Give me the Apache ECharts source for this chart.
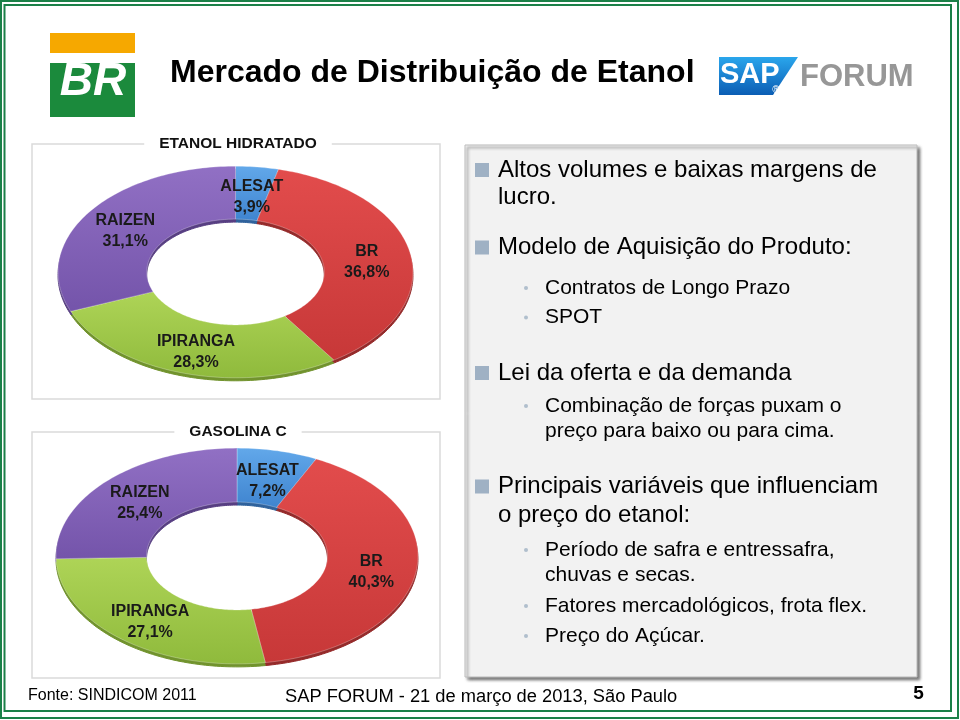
<!DOCTYPE html>
<html>
<head>
<meta charset="utf-8">
<script src="https://cdn.jsdelivr.net/npm/echarts@6/dist/echarts.min.js"></script>
<style>
html,body{margin:0;padding:0;background:#fff;}
#chart{width:960px;height:720px;}
</style>
</head>
<body>
<div id="chart"></div>
<script>
// ---- data ----
const companies = ['ALESAT', 'BR', 'IPIRANGA', 'RAIZEN'];
const etanolValues = [3.9, 36.8, 28.3, 31.1];
const gasolinaValues = [7.2, 40.3, 27.1, 25.4];
const chartTitles = ['ETANOL HIDRATADO', 'GASOLINA C'];
const slideTitle = 'Mercado de Distribuição de Etanol';
const bulletLines = [
  ['main', 'Altos volumes e baixas margens de'],
  ['cont', 'lucro.'],
  ['main', 'Modelo de Aquisição do Produto:'],
  ['sub', 'Contratos de Longo Prazo'],
  ['sub', 'SPOT'],
  ['main', 'Lei da oferta e da demanda'],
  ['sub', 'Combinação de forças puxam o'],
  ['subcont', 'preço para baixo ou para cima.'],
  ['main', 'Principais variáveis que influenciam'],
  ['cont', 'o preço do etanol:'],
  ['sub', 'Período de safra e entressafra,'],
  ['subcont', 'chuvas e secas.'],
  ['sub', 'Fatores mercadológicos, frota flex.'],
  ['sub', 'Preço do Açúcar.']
];
const footerSource = 'Fonte: SINDICOM 2011';
const footerEvent = 'SAP FORUM - 21 de março de 2013, São Paulo';
const pageNumber = '5';

// ---- styles ----
const FONT = '"Liberation Sans", Arial, sans-serif';
const GREEN = '#1b8048';
const sliceColors = [
  ['#62a8ea', '#3f84cf', '#2f629c'],
  ['#e24c4c', '#c73838', '#952a2a'],
  ['#aed457', '#8fba3c', '#71932d'],
  ['#9170c4', '#7454aa', '#573e82']
];
const lineY = [170, 197.5, 247.5, 288, 317.5, 373, 406, 431, 486.5, 515.5, 550, 575, 606, 636];

function fmt(v) { return v.toFixed(1).replace('.', ','); }

function buildData(values) {
  let acc = 0;
  return values.map((v, i) => { const d = [acc, acc + v, v, i]; acc += v; return d; });
}

const SQUASH = 0.596;
const INNER = 0.5;
const SIDE = 3;

function ringSeries(polarIndex, values, layer) {
  return {
    type: 'custom',
    coordinateSystem: 'polar',
    polarIndex: polarIndex,
    silent: true,
    animation: false,
    z: layer === 'side' ? 1 : (layer === 'top' ? 2 : 3),
    data: buildData(values),
    renderItem: function (params, api) {
      const cs = params.coordSys;
      const s = api.value(0), e = api.value(1), v = api.value(2), idx = api.value(3);
      const sq = p => [p[0], cs.cy + (p[1] - cs.cy) * SQUASH];
      if (layer === 'label') {
        const m = (s + e) / 2;
        const p = sq(api.coord([0.75, m]));
        return {
          type: 'text',
          x: p[0], y: p[1] + 4,
          style: {
            text: companies[idx] + '\n' + fmt(v) + '%',
            fontFamily: FONT, fontSize: 16, fontWeight: 'bold',
            fill: '#1a1a1a', align: 'center', verticalAlign: 'middle', lineHeight: 21
          }
        };
      }
      const n = Math.max(4, Math.ceil((e - s) * 3));
      const pts = [];
      for (let j = 0; j <= n; j++) pts.push(sq(api.coord([1, s + (e - s) * j / n])));
      for (let j = n; j >= 0; j--) pts.push(sq(api.coord([INNER, s + (e - s) * j / n])));
      const c = sliceColors[idx];
      if (layer === 'side') {
        return {
          type: 'polygon', y: SIDE,
          shape: { points: pts },
          style: { fill: c[2], stroke: c[2], lineWidth: 1 }
        };
      }
      return {
        type: 'polygon',
        shape: { points: pts },
        style: {
          fill: { type: 'linear', x: 0, y: 0, x2: 0, y2: 1, colorStops: [
            { offset: 0, color: c[0] }, { offset: 1, color: c[1] }] },
          stroke: 'rgba(255,255,255,0.35)', lineWidth: 0.8
        }
      };
    }
  };
}

// ---- static slide elements ----
const elements = [];
// frame
elements.push({ type: 'rect', shape: { x: 1, y: 1, width: 957, height: 717 }, style: { fill: 'none', stroke: GREEN, lineWidth: 2 } });
elements.push({ type: 'rect', shape: { x: 4.5, y: 5, width: 946.5, height: 706 }, style: { fill: 'none', stroke: GREEN, lineWidth: 2 } });
// BR logo
elements.push({ type: 'rect', shape: { x: 50, y: 33, width: 85, height: 20 }, style: { fill: '#f6a800' } });
elements.push({ type: 'rect', shape: { x: 50, y: 63, width: 85, height: 54 }, style: { fill: '#1b8a3c' } });
elements.push({ type: 'text', x: 93, y: 82, style: { text: 'BR', fontFamily: FONT, fontSize: 46, fontWeight: 'bold', fontStyle: 'italic', fill: '#fff', align: 'center', verticalAlign: 'middle' } });
// title
elements.push({ type: 'text', x: 170, y: 73, style: { text: slideTitle, fontFamily: FONT, fontSize: 32, fontWeight: 'bold', fill: '#000', align: 'left', verticalAlign: 'middle' } });
// SAP logo
elements.push({ type: 'polygon', shape: { points: [[719, 57], [798, 57], [773, 95], [719, 95]] },
  style: { fill: { type: 'linear', x: 0, y: 0, x2: 0, y2: 1, colorStops: [{ offset: 0, color: '#2aa6ec' }, { offset: 1, color: '#0b5db4' }] } } });
elements.push({ type: 'text', x: 720, y: 75, style: { text: 'SAP', fontFamily: FONT, fontSize: 29, fontWeight: 'bold', fill: '#fff', align: 'left', verticalAlign: 'middle' } });
elements.push({ type: 'text', x: 776, y: 90, style: { text: '®', fontFamily: FONT, fontSize: 10, fill: '#fff', align: 'center', verticalAlign: 'middle' } });
elements.push({ type: 'text', x: 800, y: 77, style: { text: 'FORUM', fontFamily: FONT, fontSize: 31, fontWeight: 'bold', fill: '#979797', align: 'left', verticalAlign: 'middle' } });
// chart boxes
const boxes = [[32, 144, 408, 255], [32, 432, 408, 246]];
boxes.forEach((b, i) => {
  elements.push({ type: 'rect', shape: { x: b[0], y: b[1], width: b[2], height: b[3] }, style: { fill: '#fff', stroke: '#dadada', lineWidth: 1.5 } });
  elements.push({ type: 'text', x: b[0] + b[2] / 2 + 2, y: b[1], style: { text: chartTitles[i], fontFamily: FONT, fontSize: 15.5, fontWeight: 'bold', fill: '#111', align: 'center', verticalAlign: 'middle', backgroundColor: '#fff', padding: [3, 15] } });
});
// text box
elements.push({ type: 'rect', shape: { x: 465, y: 145, width: 452, height: 532 },
  style: { fill: '#f2f2f2', stroke: '#bdbdbd', lineWidth: 1, shadowBlur: 3, shadowOffsetX: 2.5, shadowOffsetY: 2.5, shadowColor: 'rgba(0,0,0,0.55)' } });
bulletLines.forEach((ln, i) => {
  const kind = ln[0], y = lineY[i];
  const isMain = kind === 'main' || kind === 'cont';
  if (kind === 'main') {
    elements.push({ type: 'rect', shape: { x: 475, y: y - 7, width: 14, height: 14 }, style: { fill: '#9fb1c4' } });
  }
  if (kind === 'sub') {
    elements.push({ type: 'circle', shape: { cx: 526, cy: y, r: 2 }, style: { fill: '#b0bfcd' } });
  }
  elements.push({ type: 'text', x: isMain ? 498 : 545, y: y, style: { text: ln[1], fontFamily: FONT, fontSize: isMain ? 24 : 21, fill: '#000', align: 'left', verticalAlign: 'middle' } });
});
// footer
elements.push({ type: 'text', x: 28, y: 696, style: { text: footerSource, fontFamily: FONT, fontSize: 16, fill: '#000', align: 'left', verticalAlign: 'middle' } });
elements.push({ type: 'text', x: 285, y: 696.5, style: { text: footerEvent, fontFamily: FONT, fontSize: 18.3, fill: '#000', align: 'left', verticalAlign: 'middle' } });
elements.push({ type: 'text', x: 918.5, y: 694, style: { text: pageNumber, fontFamily: FONT, fontSize: 19, fontWeight: 'bold', fill: '#000', align: 'center', verticalAlign: 'middle' } });

const sumE = etanolValues.reduce((a, b) => a + b, 0);
const sumG = gasolinaValues.reduce((a, b) => a + b, 0);

const option = {
  backgroundColor: '#fff',
  animation: false,
  polar: [
    { center: [235.5, 272], radius: [0, 177.5] },
    { center: [237, 556], radius: [0, 181] }
  ],
  angleAxis: [
    { polarIndex: 0, type: 'value', min: 0, max: sumE, startAngle: 90, clockwise: true, show: false },
    { polarIndex: 1, type: 'value', min: 0, max: sumG, startAngle: 90, clockwise: true, show: false }
  ],
  radiusAxis: [
    { polarIndex: 0, type: 'value', min: 0, max: 1, show: false },
    { polarIndex: 1, type: 'value', min: 0, max: 1, show: false }
  ],
  graphic: { elements: elements },
  series: [
    ringSeries(0, etanolValues, 'side'),
    ringSeries(0, etanolValues, 'top'),
    ringSeries(0, etanolValues, 'label'),
    ringSeries(1, gasolinaValues, 'side'),
    ringSeries(1, gasolinaValues, 'top'),
    ringSeries(1, gasolinaValues, 'label')
  ]
};

const chart = echarts.init(document.getElementById('chart'), null, { renderer: 'canvas' });
chart.setOption(option);
</script>
</body>
</html>
